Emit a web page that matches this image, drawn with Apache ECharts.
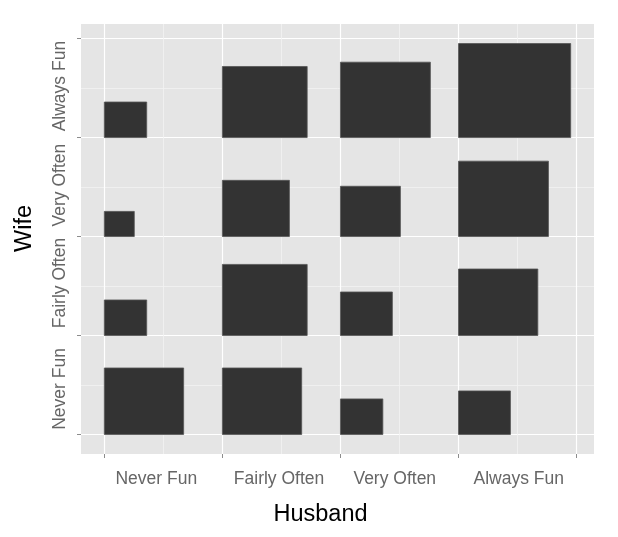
<!DOCTYPE html>
<html><head><meta charset="utf-8">
<script src="https://cdn.jsdelivr.net/npm/echarts@6/dist/echarts.min.js"></script>
<style>html,body{margin:0;padding:0;background:#fff}#c{width:618px;height:537px}</style>
</head><body><div id="c"></div>
<script>
// Categories
const husbandLevels = ['Never Fun', 'Fairly Often', 'Very Often', 'Always Fun'];
const wifeLevels = ['Never Fun', 'Fairly Often', 'Very Often', 'Always Fun'];
// Counts: one array per wife level, values across husband levels
const wifeNeverFun = [7, 7, 2, 3];
const wifeFairlyOften = [2, 8, 3, 7];
const wifeVeryOften = [1, 5, 4, 9];
const wifeAlwaysFun = [2, 8, 9, 14];
// Tick / label positions on the axes
const majorTicks = [0, 1, 2, 3, 4];
const minorTicks = [0.5, 1.5, 2.5, 3.5];
const xLabelPos = [0.44, 1.48, 2.46, 3.51];
const yLabelPos = [0.46, 1.53, 2.52, 3.52];

const rows = [wifeNeverFun, wifeFairlyOften, wifeVeryOften, wifeAlwaysFun];
const data = [];
rows.forEach((row, r) => row.forEach((v, c) => data.push([c, r, v])));
const maxCount = Math.max(...data.map(d => d[2]));

const FONT = "'Liberation Sans', Arial, Helvetica, sans-serif";
const xMin = -0.1975, xMax = 4.1475;

function majorAxis(isX) {
  const labels = isX ? husbandLevels : wifeLevels;
  const pos = isX ? xLabelPos : yLabelPos;
  return {
    type: 'value', min: xMin, max: xMax,
    position: isX ? 'bottom' : 'left',
    axisLine: { show: false, onZero: false },
    axisTick: { show: true, length: 4, customValues: majorTicks, lineStyle: { color: '#8c8c8c', width: 1 } },
    axisLabel: {
      customValues: pos,
      formatter: v => { let i = pos.findIndex(p => Math.abs(p - v) < 1e-6); return i >= 0 ? labels[i] : ''; },
      color: '#666', fontSize: 17.5, fontFamily: FONT,
      margin: isX ? 16 : 12,
      rotate: isX ? 0 : 90
    },
    splitLine: { show: true, lineStyle: { color: '#ffffff', width: 1.2 } },
    name: isX ? 'Husband' : 'Wife',
    nameLocation: 'middle',
    nameGap: isX ? 49 : 44,
    nameTextStyle: { color: '#000', fontSize: 23.5, fontFamily: FONT,
                     padding: isX ? [0, 34, 0, 0] : [0, 0, 0, 21] }
  };
}
function minorAxis(isX) {
  return {
    type: 'value', min: xMin, max: xMax,
    position: isX ? 'bottom' : 'left',
    axisLine: { show: false, onZero: false },
    axisTick: { show: false, customValues: minorTicks },
    axisLabel: { show: false, customValues: minorTicks },
    splitLine: { show: true, lineStyle: { color: '#f2f2f2', width: 0.8 } }
  };
}

const chart = echarts.init(document.getElementById('c'), null, { renderer: 'canvas' });
chart.setOption({
  backgroundColor: '#fff',
  animation: false,
  grid: { left: 81, right: 24, top: 24, bottom: 83, show: true, backgroundColor: '#e5e5e5', borderWidth: 0,
          containLabel: false, outerBoundsMode: 'none' },
  xAxis: [minorAxis(true), majorAxis(true)],
  yAxis: [minorAxis(false), majorAxis(false)],
  series: [{
    type: 'custom',
    xAxisIndex: 1, yAxisIndex: 1,
    data: data,
    renderItem: function (params, api) {
      const x = api.value(0), y = api.value(1), n = api.value(2);
      const s = 0.95 * Math.sqrt(n / maxCount);
      const p0 = api.coord([x, y]);
      const p1 = api.coord([x + s, y + s]);
      return {
        type: 'rect',
        shape: { x: p0[0], y: p1[1], width: p1[0] - p0[0], height: p0[1] - p1[1] },
        style: { fill: '#333333', stroke: '#555555', lineWidth: 0.8 }
      };
    }
  }]
});
</script></body></html>
